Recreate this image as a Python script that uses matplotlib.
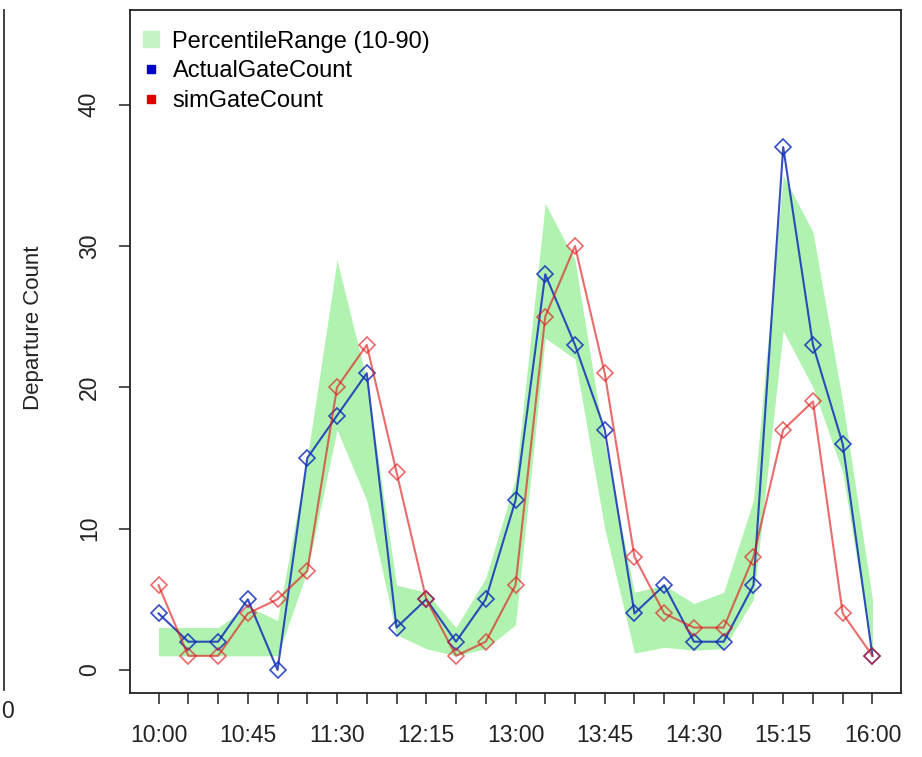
import matplotlib
matplotlib.use("Agg")
import matplotlib.pyplot as plt
from matplotlib.lines import Line2D

# 15-minute slots from 10:00 to 16:00
times = ["10:00", "10:15", "10:30", "10:45", "11:00", "11:15", "11:30", "11:45",
         "12:00", "12:15", "12:30", "12:45", "13:00", "13:15", "13:30", "13:45",
         "14:00", "14:15", "14:30", "14:45", "15:00", "15:15", "15:30", "15:45",
         "16:00"]

actual_gate = [4, 2, 2, 5, 0, 15, 18, 21, 3, 5, 2, 5, 12, 28, 23, 17,
               4, 6, 2, 2, 6, 37, 23, 16, 1]
sim_gate = [6, 1, 1, 4, 5, 7, 20, 23, 14, 5, 1, 2, 6, 25, 30, 21,
            8, 4, 3, 3, 8, 17, 19, 4, 1]

# 10th / 90th percentile of the simulation runs
p10 = [1, 1, 1, 1, 1, 7, 17, 12, 2.5, 1.5, 1, 1.5, 3.2, 23.5, 22, 10,
       1.2, 1.6, 1.4, 1.5, 5, 24, 20, 14, 1]
p90 = [3, 3, 3, 4.5, 3.5, 15, 29, 20.5, 6, 5.5, 3, 6.5, 13.5, 33, 29, 16,
       5.5, 6, 4.7, 5.5, 12, 35, 31, 19, 5]

yticks = [0, 10, 20, 30, 40]

plt.rcParams['font.family'] = ['Liberation Sans', 'DejaVu Sans']

fig = plt.figure(figsize=(9.22, 7.57), dpi=100)
ax = fig.add_axes([130 / 922, 1 - 693 / 757, 771 / 922, 683 / 757])

idx = list(range(len(times)))
band_col = '#b0f2b0'
blue = '#1130b8'
red = '#e01c1c'

ax.fill_between(idx, p10, p90, color=band_col, lw=0, zorder=1)
ax.plot(idx, actual_gate, color=blue, alpha=0.85, lw=1.5, marker='D', ms=8,
        mfc='none', mec=blue, mew=1.2, zorder=3)
ax.plot(idx, sim_gate, color=red, alpha=0.65, lw=1.5, marker='D', ms=8,
        mfc='none', mec=red, mew=1.2, zorder=4)

ax.set_xlim(-0.96, 24.96)
ax.set_ylim(-1.63, 46.7)

ax.set_xticks(idx)
ax.set_xticklabels([t if i % 3 == 0 else '' for i, t in enumerate(times)])
ax.set_yticks(yticks)
ax.set_yticklabels([str(v) for v in yticks], rotation=90, va='center')

ax.tick_params(axis='both', direction='out', length=8, width=1.1,
               labelsize=16.5, colors='#222222')
ax.tick_params(axis='x', pad=14)
ax.tick_params(axis='y', pad=13)
for s in ax.spines.values():
    s.set_linewidth(1.3)
    s.set_color('#222222')

ax.set_ylabel("Departure Count", fontsize=16, color='#222222')
ax.yaxis.set_label_coords(-0.1115, 0.535)

handles = [
    Line2D([], [], ls='', marker='s', ms=11, color='#c6f4c6'),
    Line2D([], [], ls='', marker='s', ms=6, color='#0000cc'),
    Line2D([], [], ls='', marker='s', ms=6, color='#dd0000'),
]
labels = ["PercentileRange (10-90)", "ActualGateCount", "simGateCount"]
ax.legend(handles, labels, loc='upper left', bbox_to_anchor=(0.0, 0.987),
          frameon=False, fontsize=17, handlelength=0.8, handletextpad=0.5,
          labelspacing=0.32, borderpad=0.3, borderaxespad=0.2)

# edge of the neighbouring panel, cut off in the source image
fig.add_artist(Line2D([4 / 922, 4 / 922], [1 - 690 / 757, 1 - 10 / 757],
                      transform=fig.transFigure, color='#333333', lw=1.3))
fig.text(7 / 922, 1 - 712 / 757, "0", ha='center', va='center',
         fontsize=16.5, color='#222222')

fig.savefig("out.png", dpi=100)
